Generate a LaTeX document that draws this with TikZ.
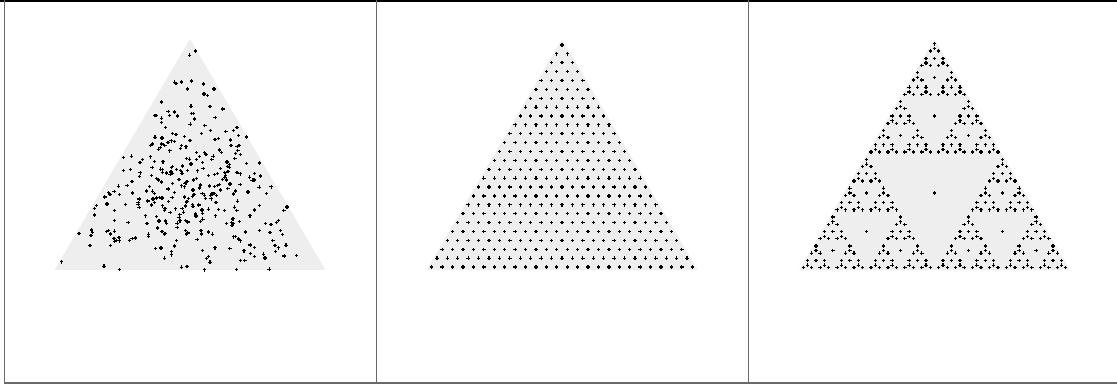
\documentclass[tikz,border=0pt]{standalone}
\usepackage{tikz}
\usetikzlibrary{calc}
\definecolor{cFrame}{RGB}{105,105,105}
\definecolor{cSimplex}{RGB}{238,238,238}
\tikzset{
	frameline/.style={cFrame, line width=0.5pt},
	topline/.style  ={black, line width=0.45pt},
	simplex/.style  ={fill=cSimplex, draw=none},
	dotmark/.style  ={black, line width=0.34pt},
}
\newcommand{\hratio}{0.8524}
\newcommand{\plusmark}[2]{%
	\draw[dotmark] (#1,#2) +(-0.017,0) -- +(0.017,0) +(0,-0.017) -- +(0,0.017);}
% centroid of the triangle, then the three corner triangles
\newcommand{\sierpdots}[4]{%
	\begingroup
	\pgfmathsetmacro{\sx}{#2}%
	\pgfmathsetmacro{\sy}{#3}%
	\pgfmathsetmacro{\sw}{#4}%
	\pgfmathsetmacro{\cx}{\sx+\sw/2}%
	\pgfmathsetmacro{\cy}{\sy+\sw*\hratio/3}%
	\plusmark{\cx}{\cy}%
	\ifnum#1>0
		\pgfmathtruncatemacro{\nd}{#1-1}%
		\pgfmathsetmacro{\hw}{\sw/2}%
		\pgfmathsetmacro{\rx}{\sx+\sw/2}%
		\pgfmathsetmacro{\qx}{\sx+\sw/4}%
		\pgfmathsetmacro{\my}{\sy+\sw*\hratio/2}%
		\edef\sierpnext{\noexpand\sierpdots{\nd}{\sx}{\sy}{\hw}%
			\noexpand\sierpdots{\nd}{\rx}{\sy}{\hw}%
			\noexpand\sierpdots{\nd}{\qx}{\my}{\hw}}%
		\sierpnext
	\fi
	\endgroup}

\begin{document}
\begin{tikzpicture}
	\useasboundingbox (0,0) rectangle (11.17,3.87);
	% frame
	\draw[topline] (0,3.862) -- (11.17,3.862);
	\draw[frameline] (0.045,3.87) -- (0.045,0.043) -- (11.17,0.043);
	\draw[frameline] (3.765,3.87) -- (3.765,0.043);
	\draw[frameline] (7.485,3.87) -- (7.485,0.043);
	% simplices
	\fill[simplex] (0.545,1.17) -- (3.255,1.17) -- (1.90,3.48) -- cycle;
	\fill[simplex] (4.265,1.17) -- (6.975,1.17) -- (5.62,3.48) -- cycle;
	\fill[simplex] (7.99,1.17) -- (10.70,1.17) -- (9.345,3.48) -- cycle;
	% panel 1: random points
	\pgfmathsetseed{4217}
	\foreach \i in {1,...,350}{
		\pgfmathsetmacro{\ua}{rnd}\pgfmathsetmacro{\va}{rnd}
		\pgfmathsetmacro{\ub}{rnd}\pgfmathsetmacro{\vb}{rnd}
		\pgfmathsetmacro{\pa}{\ua+\va>1 ? 1-\ua : \ua}
		\pgfmathsetmacro{\qa}{\ua+\va>1 ? 1-\va : \va}
		\pgfmathsetmacro{\pb}{\ub+\vb>1 ? 1-\ub : \ub}
		\pgfmathsetmacro{\qb}{\ub+\vb>1 ? 1-\vb : \vb}
		\pgfmathsetmacro{\wt}{rnd<0.35 ? 1 : 0.5}
		\pgfmathsetmacro{\pp}{\wt*\pa+(1-\wt)*\pb}
		\pgfmathsetmacro{\qq}{\wt*\qa+(1-\wt)*\qb}
		\pgfmathsetmacro{\px}{0.545+\pp*2.71+\qq*1.355}
		\pgfmathsetmacro{\py}{1.17+\qq*2.31}
		\plusmark{\px}{\py}
	}
	% panel 2: regular grid
	\foreach \r in {0,...,25}{
		\foreach \k in {0,...,\r}{
			\pgfmathsetmacro{\gx}{5.62-\r*2.71/52+\k*2.71/26}
			\pgfmathsetmacro{\gy}{3.48-(\r+2/3)*2.31/26}
			\plusmark{\gx}{\gy}
		}
	}
	% panel 3: sierpinski
	\sierpdots{5}{7.99}{1.17}{2.71}
\end{tikzpicture}
\end{document}
